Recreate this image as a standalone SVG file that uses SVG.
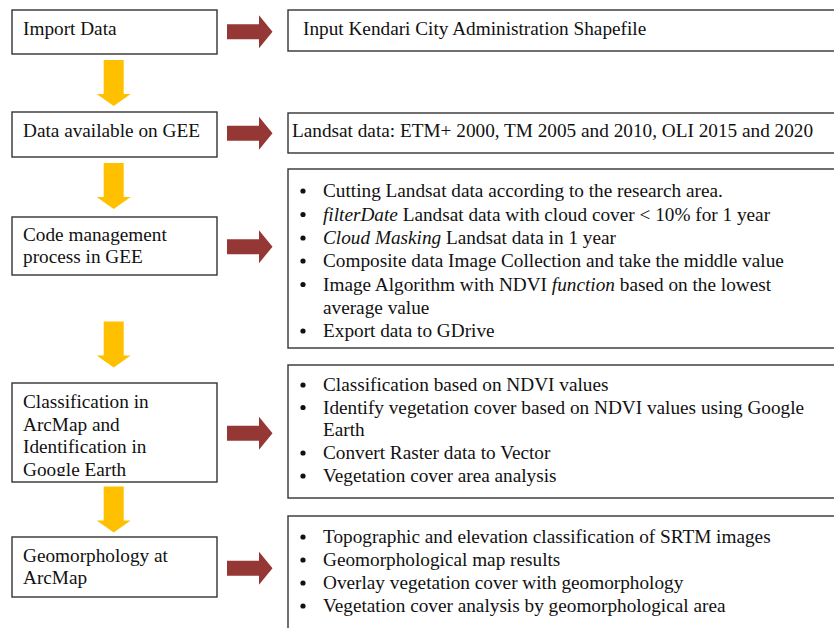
<svg xmlns="http://www.w3.org/2000/svg" width="834" height="628" viewBox="0 0 834 628" font-family="Liberation Serif, serif">
  <defs>
    <style>
      .box { fill: #ffffff; stroke: #333333; stroke-width: 1.4; }
      .lbl { font-family: "Liberation Serif", "Times New Roman", serif; font-size: 19.25px; fill: #111111; }
      .ital { font-style: italic; }
      .red { fill: #953735; }
      .yel { fill: #FFC000; }
      .dot { fill: #111111; }
    </style>
    <path id="redArrow" d="M0,-7.5 H32 V-16.5 L45.5,0 L32,16.5 V7.5 H0 Z"/>
    <path id="yelArrow" d="M-10,0 H10 V34 H17 L0,46 L-17,34 H-10 Z"/>
    <clipPath id="clip4"><rect x="12" y="383" width="205" height="93"/></clipPath>
  </defs>
  <rect width="834" height="628" fill="#ffffff"/>

  <g id="connectors">
    <use href="#redArrow" class="red" x="227" y="31.7"/>
    <use href="#redArrow" class="red" x="227" y="133.3"/>
    <use href="#redArrow" class="red" x="227" y="246.7"/>
    <use href="#redArrow" class="red" x="227" y="433.3"/>
    <use href="#redArrow" class="red" x="227" y="568.3"/>
    <use href="#yelArrow" class="yel" x="113.7" y="60"/>
    <use href="#yelArrow" class="yel" x="113.7" y="163"/>
    <use href="#yelArrow" class="yel" x="113.7" y="321.5"/>
    <use href="#yelArrow" class="yel" x="113.7" y="486.5"/>
  </g>

  <g id="import-data">
    <rect class="box" x="12" y="10" width="205" height="44"/>
    <text class="lbl" x="23" y="35">Import Data</text>
  </g>
  <g id="data-gee">
    <rect class="box" x="12" y="112" width="205" height="45"/>
    <text class="lbl" x="23" y="137">Data available on GEE</text>
  </g>
  <g id="code-management">
    <rect class="box" x="12" y="217" width="205" height="58"/>
    <text class="lbl" x="23" y="241">Code management</text>
    <text class="lbl" x="23" y="263">process in GEE</text>
  </g>
  <g id="classification">
    <rect class="box" x="12" y="383" width="205" height="99"/>
    <g clip-path="url(#clip4)">
      <text class="lbl" x="23" y="408">Classification in</text>
      <text class="lbl" x="23" y="430.5">ArcMap and</text>
      <text class="lbl" x="23" y="453">Identification in</text>
      <text class="lbl" x="23" y="475.5">Google Earth</text>
    </g>
  </g>
  <g id="geomorphology">
    <rect class="box" x="12" y="537" width="205" height="60"/>
    <text class="lbl" x="23" y="562">Geomorphology at</text>
    <text class="lbl" x="23" y="584">ArcMap</text>
  </g>

  <g id="input-shapefile">
    <rect class="box" x="288" y="10" width="552" height="41"/>
    <text class="lbl" x="303" y="35">Input Kendari City Administration Shapefile</text>
  </g>
  <g id="landsat-data">
    <rect class="box" x="288" y="113" width="552" height="40"/>
    <text class="lbl" x="292" y="137">Landsat data: ETM+ 2000, TM 2005 and 2010, OLI 2015 and 2020</text>
  </g>
  <g id="gee-steps">
    <rect class="box" x="288" y="169" width="552" height="179"/>
    <circle class="dot" cx="303" cy="191" r="2.6"/>
    <text class="lbl" x="323" y="197">Cutting Landsat data according to the research area.</text>
    <circle class="dot" cx="303" cy="214.5" r="2.6"/>
    <text class="lbl" x="323" y="220.5"><tspan class="ital">filterDate</tspan> Landsat data with cloud cover &lt; 10% for 1 year</text>
    <circle class="dot" cx="303" cy="238" r="2.6"/>
    <text class="lbl" x="323" y="244"><tspan class="ital">Cloud Masking</tspan> Landsat data in 1 year</text>
    <circle class="dot" cx="303" cy="261" r="2.6"/>
    <text class="lbl" x="323" y="267">Composite data Image Collection and take the middle value</text>
    <circle class="dot" cx="303" cy="284.5" r="2.6"/>
    <text class="lbl" x="323" y="290.5">Image Algorithm with NDVI <tspan class="ital">function</tspan> based on the lowest</text>
    <text class="lbl" x="323" y="313.5">average value</text>
    <circle class="dot" cx="303" cy="331" r="2.6"/>
    <text class="lbl" x="323" y="337">Export data to GDrive</text>
  </g>
  <g id="classification-steps">
    <rect class="box" x="288" y="365" width="552" height="133"/>
    <circle class="dot" cx="303" cy="385" r="2.6"/>
    <text class="lbl" x="323" y="391">Classification based on NDVI values</text>
    <circle class="dot" cx="303" cy="407.5" r="2.6"/>
    <text class="lbl" x="323" y="413.5">Identify vegetation cover based on NDVI values using Google</text>
    <text class="lbl" x="323" y="436">Earth</text>
    <circle class="dot" cx="303" cy="453" r="2.6"/>
    <text class="lbl" x="323" y="459">Convert Raster data to Vector</text>
    <circle class="dot" cx="303" cy="476" r="2.6"/>
    <text class="lbl" x="323" y="482">Vegetation cover area analysis</text>
  </g>
  <g id="geomorphology-steps">
    <rect class="box" x="288" y="516" width="552" height="124"/>
    <circle class="dot" cx="303" cy="537" r="2.6"/>
    <text class="lbl" x="323" y="543">Topographic and elevation classification of SRTM images</text>
    <circle class="dot" cx="303" cy="560" r="2.6"/>
    <text class="lbl" x="323" y="566">Geomorphological map results</text>
    <circle class="dot" cx="303" cy="583" r="2.6"/>
    <text class="lbl" x="323" y="589">Overlay vegetation cover with geomorphology</text>
    <circle class="dot" cx="303" cy="606" r="2.6"/>
    <text class="lbl" x="323" y="612">Vegetation cover analysis by geomorphological area</text>
  </g>
</svg>
